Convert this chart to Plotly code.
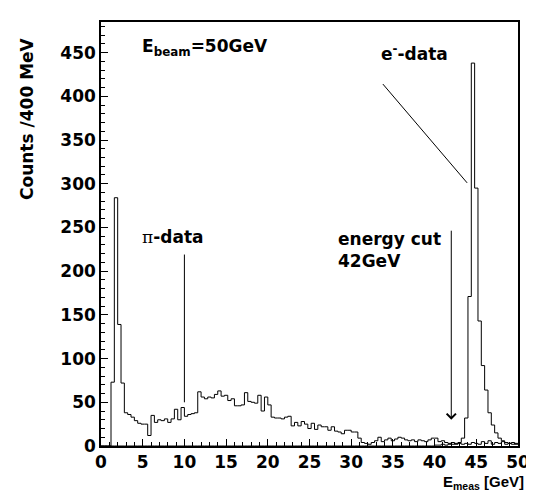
import numpy as np
import plotly.graph_objects as go

# 400 MeV bins from 0 to 50 GeV
bin_width = 0.4
edges = np.round(np.arange(0, 50.0001, bin_width), 2)

# pi-data counts per bin
pi_counts = [
    0, 0, 0, 73, 284, 139, 72, 38, 36, 33,
    29, 26, 25, 25, 12, 35, 27, 30, 29, 31,
    27, 31, 42, 30, 44, 34, 36, 37, 38, 62,
    56, 54, 56, 55, 59, 63, 57, 58, 52, 54,
    46, 46, 47, 61, 51, 50, 49, 58, 40, 56,
    47, 33, 32, 32, 31, 33, 34, 23, 27, 23,
    28, 25, 20, 26, 19, 24, 22, 22, 18, 22,
    17, 16, 14, 18, 18, 16, 16, 9, 4, 3,
    2, 4, 6, 10, 5, 7, 9, 6, 8, 10,
    9, 7, 6, 7, 5, 7, 6, 5, 7, 9,
    9, 5, 6, 4, 3, 4, 2, 3, 2, 3,
    2, 4, 3, 2, 5, 3, 6, 2, 4, 3,
    5, 2, 3, 4, 2,
]

# e- data counts per bin
e_counts = [0] * 100 + [
    1, 1, 2, 1, 2, 2, 3, 4, 9, 32,
    171, 438, 295, 143, 92, 64, 38, 24, 15, 9,
    6, 4, 3, 2, 3,
]

font = dict(family="DejaVu Sans", size=17, color="black", weight="bold")


def step(counts):
    # left edges + last edge, last value repeated so the last bin closes
    return list(edges), list(counts) + [counts[-1]]


fig = go.Figure()
for counts in (pi_counts, e_counts):
    x, y = step(counts)
    fig.add_trace(go.Scatter(x=x, y=y, mode="lines", line_shape="hv",
                             line=dict(color="black", width=1), showlegend=False))

# pointer lines
fig.add_shape(type="line", x0=10, x1=10, y0=219, y1=50, line=dict(color="black", width=1))
fig.add_shape(type="line", x0=33.8, x1=43.9, y0=414, y1=301, line=dict(color="black", width=1))

# energy cut arrow
fig.add_annotation(x=42, y=30, ax=42, ay=248, axref="x", ayref="y", text="",
                   showarrow=True, arrowhead=4, arrowsize=1.8, arrowwidth=1, arrowcolor="black")

fig.add_annotation(x=4.7, y=456, text="E<sub>beam</sub>=50GeV", showarrow=False,
                   xanchor="left", yanchor="middle", font=font)
fig.add_annotation(x=4.7, y=239, showarrow=False, xanchor="left", yanchor="middle", font=font,
                   text="<span style=\"font-family:'DejaVu Serif';font-weight:normal\">π</span>-data")
fig.add_annotation(x=33.3, y=450, text="e<sup>-</sup>-data", showarrow=False,
                   xanchor="left", yanchor="middle", font=font)
fig.add_annotation(x=28.2, y=224, text="energy cut<br>42GeV", showarrow=False, align="left",
                   xanchor="left", yanchor="middle", font=font)

# axis titles
fig.add_annotation(xref="paper", yref="paper", x=1.02, y=-0.087, text="E<sub>meas</sub> [GeV]",
                   showarrow=False, xanchor="right", yanchor="middle",
                   font=dict(font, family="Liberation Sans", size=15))
fig.add_annotation(xref="paper", yref="paper", x=-0.178, y=0.97, text="Counts /400 MeV",
                   textangle=-90, showarrow=False, xanchor="center", yanchor="top", font=font)

axis_common = dict(showline=True, linewidth=1.5, linecolor="black", mirror=True,
                   showgrid=False, zeroline=False, ticks="inside", tickwidth=1,
                   tickcolor="black", tickfont=font)

fig.update_xaxes(range=[0, 50], tick0=0, dtick=5, ticklen=7,
                 minor=dict(dtick=1, ticks="inside", ticklen=4, tickcolor="black", showgrid=False),
                 **axis_common)
fig.update_yaxes(range=[0, 485], tick0=0, dtick=50, ticklen=7,
                 minor=dict(dtick=10, ticks="inside", ticklen=4, tickcolor="black", showgrid=False),
                 **axis_common)

fig.update_layout(width=534, height=493, margin=dict(l=93, r=14, t=12, b=55),
                  plot_bgcolor="white", paper_bgcolor="white")

fig.write_html("out.html")
